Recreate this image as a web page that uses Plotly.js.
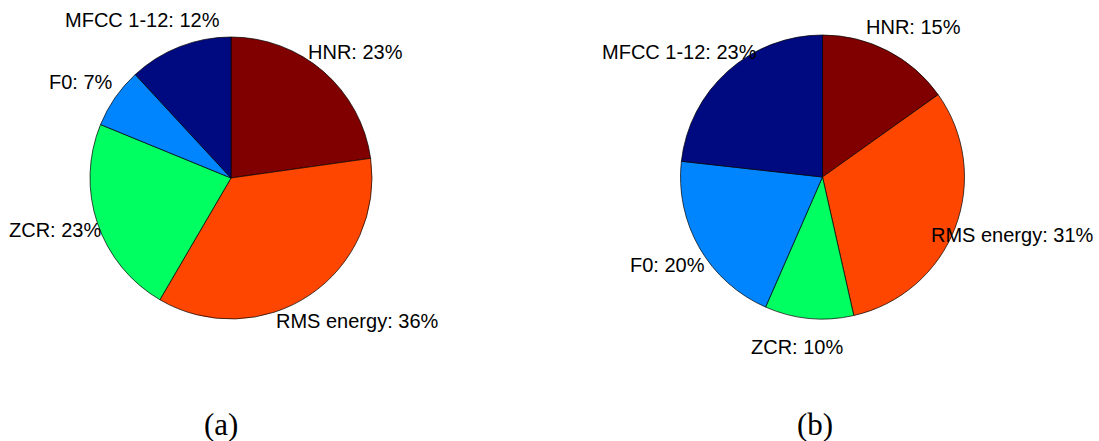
<!DOCTYPE html>
<html>
<head>
<meta charset="utf-8">
<script src="https://cdn.plot.ly/plotly-3.0.1.min.js"></script>
<style>html,body{margin:0;padding:0;background:#fff;}#chart{width:1099px;height:441px;}</style>
</head>
<body>
<div id="chart"></div>
<script>
// Data
const features = ["HNR", "RMS energy", "ZCR", "F0", "MFCC 1-12"];
const percentA = [23, 36, 23, 7, 12];
const percentB = [15, 31, 10, 20, 23];
const panelLabels = ["(a)", "(b)"];
const sliceColors = ["#800000", "#FF4600", "#00FF60", "#0085FF", "#000A80"];

// Layout helpers (pixels)
const W = 1099, H = 441;
const pies = [
  {values: percentA, x0: 90, x1: 372, y0: 37, y1: 319,
   nudge: [[14, 2], [32, 2], [-16, -2], [-11, 0], [-27, 0]], panelDx: -10},
  {values: percentB, x0: 680, x1: 965, y0: 35, y1: 319,
   nudge: [[13, 1], [31, -3], [-9, 0], [-7, 3], [-29, 2]], panelDx: -8}
];

const traces = [];
const annotations = [];
pies.forEach((p, k) => {
  traces.push({
    type: "pie",
    values: p.values,
    labels: features,
    sort: false,
    direction: "clockwise",
    rotation: 0,
    textinfo: "none",
    hoverinfo: "none",
    showlegend: false,
    marker: {colors: sliceColors, line: {color: "#000", width: 0.7}},
    domain: {x: [p.x0 / W, p.x1 / W], y: [1 - p.y1 / H, 1 - p.y0 / H]}
  });
  const cx = (p.x0 + p.x1) / 2, cy = (p.y0 + p.y1) / 2;
  const r = Math.min(p.x1 - p.x0, p.y1 - p.y0) / 2;
  const total = p.values.reduce((a, b) => a + b, 0);
  let cum = 0;
  p.values.forEach((v, i) => {
    const mid = (cum + v / 2) / total * 2 * Math.PI;
    cum += v;
    const px = cx + 1.2 * r * Math.sin(mid) + p.nudge[i][0];
    const py = cy - 1.2 * r * Math.cos(mid) + p.nudge[i][1];
    annotations.push({
      xref: "paper", yref: "paper", x: px / W, y: 1 - py / H,
      xanchor: "center", yanchor: "middle", showarrow: false,
      text: features[i] + ": " + v + "%",
      font: {family: "Liberation Sans, Arial, sans-serif", size: 20, color: "#000"}
    });
  });
  annotations.push({
    xref: "paper", yref: "paper", x: (cx + p.panelDx) / W, y: 1 - 424 / H,
    xanchor: "center", yanchor: "middle", showarrow: false,
    text: panelLabels[k],
    font: {family: "Liberation Serif, DejaVu Serif, serif", size: 31, color: "#000"}
  });
});

const layout = {
  width: W, height: H,
  margin: {l: 0, r: 0, t: 0, b: 0},
  paper_bgcolor: "#fff", plot_bgcolor: "#fff",
  annotations: annotations,
  showlegend: false
};
Plotly.newPlot("chart", traces, layout, {displayModeBar: false, staticPlot: true});
</script>
</body>
</html>
